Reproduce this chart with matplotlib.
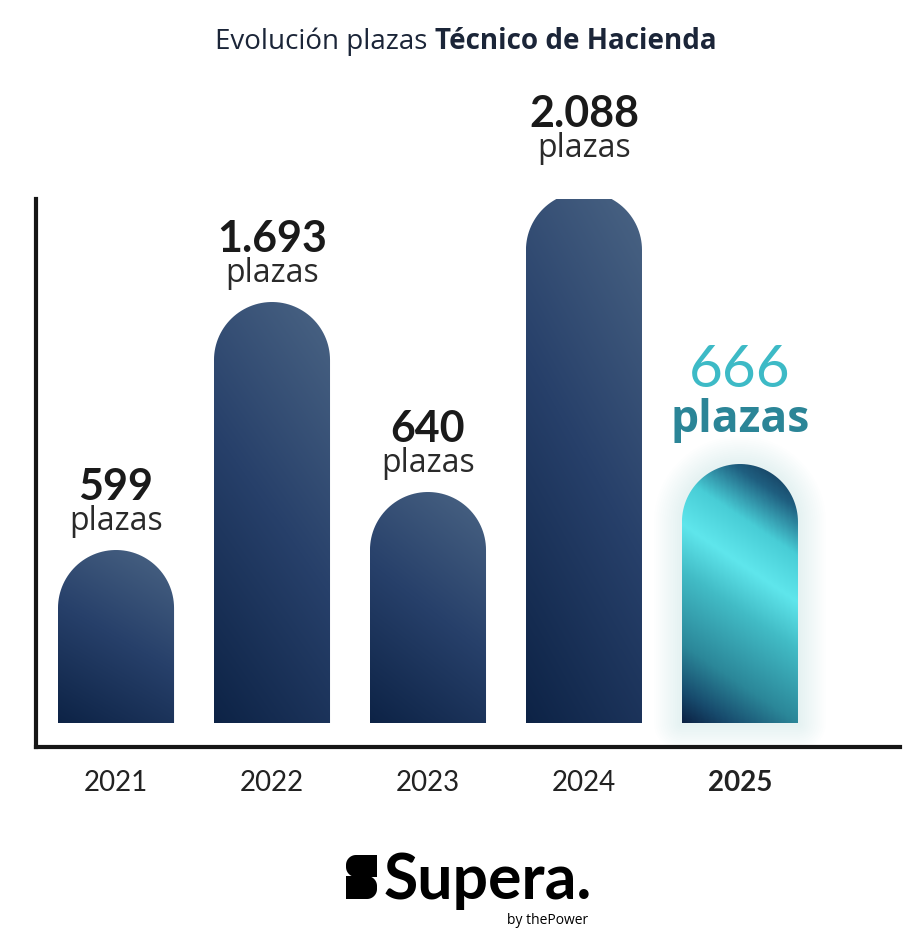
import numpy as np
import matplotlib.pyplot as plt
from matplotlib.path import Path
from matplotlib.patches import PathPatch
from matplotlib.colors import LinearSegmentedColormap

plt.rcParams['font.family'] = ['Lato', 'DejaVu Sans']
WORD_FONT = ['Open Sans', 'DejaVu Sans']

# datos
years = ['2021', '2022', '2023', '2024', '2025']
plazas = [599, 1693, 640, 2088, 666]
value_labels = ['599', '1.693', '640', '2.088', '666']
# altura visual de las barras (el grafico original no va a escala)
bar_heights = [173, 421, 231, 531, 259]

W, H = 921, 945
fig = plt.figure(figsize=(W / 100, H / 100), dpi=100)

# capa de fondo para titulo y logo, en pixeles
ov = fig.add_axes([0, 0, 1, 1])
ov.set_xlim(0, W)
ov.set_ylim(H, 0)
ov.axis('off')

ax = fig.add_axes([36 / W, (H - 748) / H, (900 - 36) / W, (748 - 200) / H])
ax.patch.set_alpha(0)
ax.set_xlim(-0.513, 5.026)
ax.set_ylim(-24, 524)
for s in ['top', 'right']:
    ax.spines[s].set_visible(False)
for s in ['left', 'bottom']:
    ax.spines[s].set_linewidth(3)
    ax.spines[s].set_color('#161616')
    ax.spines[s].set_capstyle('projecting')
ax.set_yticks([])
ax.set_xticks(range(len(years)), years)
ax.tick_params(axis='x', length=0, pad=16, labelsize=20, labelcolor='#222222')
ax.get_xticklabels()[-1].set_fontweight('bold')

bar_w = 0.744
# radio del arco en unidades y (px por unidad x / px por unidad y)
px_x = (900 - 36) / (5.026 + 0.513)
px_y = (748 - 200) / (524 + 24)
ry = bar_w / 2 * px_x / px_y

navy = LinearSegmentedColormap.from_list('navy', ['#0d2346', '#27406a', '#4a6484'])
teal = LinearSegmentedColormap.from_list('teal', [
    (0.00, '#10294a'), (0.13, '#1f5f80'), (0.27, '#48cdd6'), (0.41, '#5fe6ec'),
    (0.55, '#42bcc6'), (0.77, '#2b8799'), (0.91, '#174a6c'), (1.00, '#0c2244')])


def bar_path(c, h):
    x0, x1 = c - bar_w / 2, c + bar_w / 2
    th = np.linspace(0, np.pi, 60)
    arc = np.column_stack([c + bar_w / 2 * np.cos(th), h - ry + ry * np.sin(th)])
    verts = np.vstack([[x0, 0], [x1, 0], [x1, h - ry], arc, [x0, h - ry], [x0, 0]])
    codes = [Path.MOVETO] + [Path.LINETO] * (len(verts) - 2) + [Path.CLOSEPOLY]
    return Path(verts, codes)


ny, nx = 200, 80
xn, yn = np.meshgrid(np.linspace(0, 1, nx), np.linspace(0, 1, ny))

for i, h in enumerate(bar_heights):
    path = bar_path(i, h)
    last = i == len(bar_heights) - 1
    if last:
        # halo suave
        for lw in np.arange(40, 2, -3):
            ax.add_patch(PathPatch(path, facecolor='none', edgecolor='#b5e4ec',
                                   lw=lw, alpha=0.02, zorder=1, joinstyle='round'))
        pxx = xn * 116
        pyy = (1 - yn) * h * px_y
        t = (-0.56 * pxx + 0.83 * pyy + 65) / 280
        img = teal(np.clip(t, 0, 1))
    else:
        t = 0.72 * yn + 0.28 * xn
        img = navy(t)
    patch = PathPatch(path, facecolor='none', edgecolor='none', zorder=2)
    ax.add_patch(patch)
    im = ax.imshow(img, extent=[i - bar_w / 2, i + bar_w / 2, 0, h], origin='lower',
                   aspect='auto', interpolation='bilinear', zorder=2)
    im.set_clip_path(patch)
    ax.set_xlim(-0.513, 5.026)
    ax.set_ylim(-24, 524)

    lift = 15 if h == max(bar_heights) else 0
    if last:
        ax.text(i, h + 78, value_labels[i], ha='center', va='baseline', fontsize=42,
                color='#3dbac6', clip_on=False)
        ax.text(i, h + 33, 'plazas', ha='center', va='baseline', fontsize=32,
                fontweight='bold', color='#2b8597', family=WORD_FONT, clip_on=False)
    else:
        ax.text(i, h + 51 + lift, value_labels[i], ha='center', va='baseline', fontsize=31,
                fontweight='bold', color='#1a1a1a', clip_on=False)
        ax.text(i, h + 21 + lift, 'plazas', ha='center', va='baseline', fontsize=23,
                color='#2a2a2a', family=WORD_FONT, clip_on=False)

# titulo en dos pesos
t1 = ov.text(0, 49, 'Evolución plazas', ha='left', va='baseline', fontsize=20,
             color='#1b2538', family=WORD_FONT)
t2 = ov.text(0, 49, 'Técnico de Hacienda', ha='left', va='baseline', fontsize=20,
             fontweight='bold', color='#1b2538', family=WORD_FONT)
r = fig.canvas.get_renderer()
w1 = t1.get_window_extent(r).width
w2 = t2.get_window_extent(r).width
gap = 8
x0 = 466 - (w1 + gap + w2) / 2
t1.set_x(x0)
t2.set_x(x0 + w1 + gap)


# logo: dos bloques redondeados que forman la S
def rounded_block(x0, y0, x1, y1, rad, side):
    th = np.linspace(0, np.pi / 2, 15)
    if side == 'left':
        tl = np.column_stack([x0 + rad - rad * np.sin(th), y0 + rad - rad * np.cos(th)])
        bl = np.column_stack([x0 + rad - rad * np.cos(th), y1 - rad + rad * np.sin(th)])
        verts = np.vstack([[x1, y0], tl, bl, [x1, y1]])
    else:
        tr = np.column_stack([x1 - rad + rad * np.sin(th), y0 + rad - rad * np.cos(th)])
        br = np.column_stack([x1 - rad + rad * np.cos(th), y1 - rad + rad * np.sin(th)])
        verts = np.vstack([[x0, y0], tr, br, [x0, y1]])
    return Path(verts, closed=False)


for side, (ya, yb) in [('left', (856, 878)), ('right', (877, 900))]:
    p = rounded_block(346, ya, 377, yb, 10, side)
    ov.add_patch(PathPatch(p, fc='black', ec='none'))

ov.text(384, 899, 'Supera.', ha='left', va='baseline', fontsize=45, fontweight='bold',
        color='black')
ov.text(588, 924, 'by thePower', ha='right', va='baseline', fontsize=10, color='black',
        family=WORD_FONT)

fig.savefig('out.png', dpi=100)
